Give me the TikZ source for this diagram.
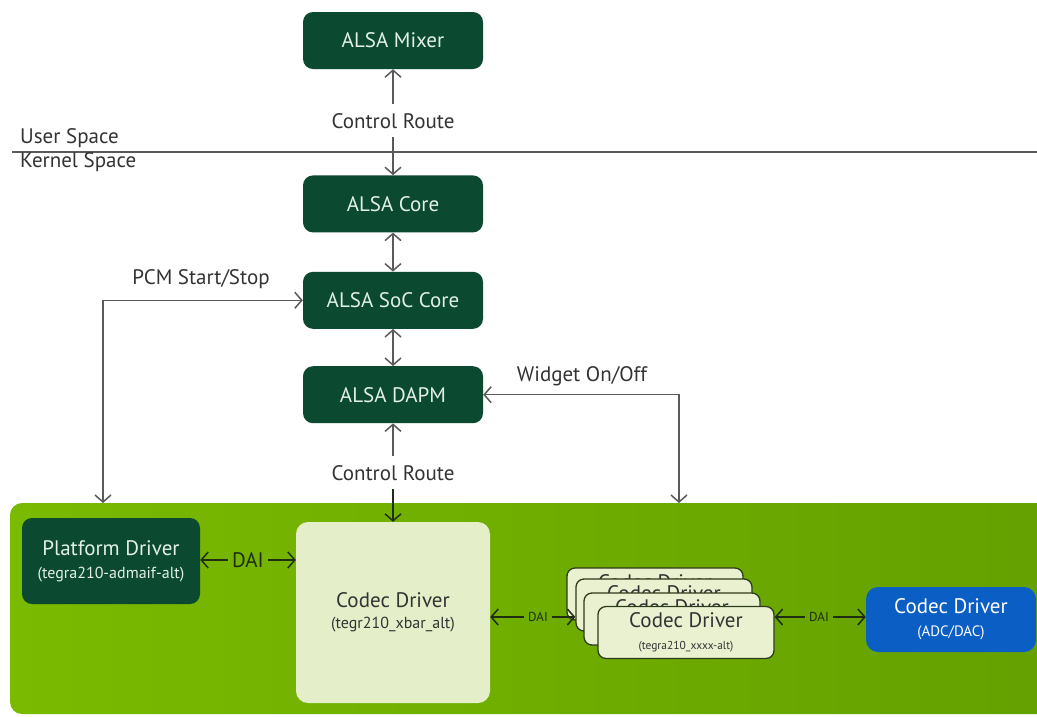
\documentclass[tikz,border=0pt]{standalone}
\usepackage{fontspec}
\setmainfont{PT Sans}
\usetikzlibrary{arrows.meta, positioning}

\definecolor{alsadark}{HTML}{0B4A30}
\definecolor{alsatext}{HTML}{E2F0E6}
\definecolor{nvgreen}{HTML}{7ABA00}
\definecolor{nvgreendark}{HTML}{64A000}
\definecolor{codecfill}{HTML}{E4EFC9}
\definecolor{stackfill}{HTML}{E9F1D0}
\definecolor{stackline}{HTML}{2E3A1C}
\definecolor{adcblue}{HTML}{0B5EC4}
\definecolor{linegrey}{HTML}{5A5A5A}
\definecolor{innerline}{HTML}{1F2E12}
\definecolor{lbltext}{HTML}{333333}

\newcommand{\subfont}{\fontsize{16}{19}\selectfont}
\newcommand{\tinyfont}{\fontsize{11.5}{13}\selectfont}
\newcommand{\daifont}{\fontsize{13}{15}\selectfont}

\begin{document}
\begin{tikzpicture}[
    x=1pt, y=-1pt,
    font=\fontsize{21}{25}\selectfont,
    alsabox/.style={rectangle, rounded corners=10pt, fill=alsadark, text=alsatext, minimum width=180pt, minimum height=57pt, align=center},
    lbl/.style={text=lbltext, inner sep=9pt},
    codecbox/.style={rectangle, rounded corners=12pt, fill=codecfill, text=lbltext, align=center},
    stackbox/.style={rectangle, rounded corners=8pt, draw=stackline, line width=1.3pt, fill=stackfill, text=lbltext, minimum width=176pt, minimum height=52pt, align=center},
    arrow/.style={-{Straight Barb[length=7pt, width=16pt]}, line width=1.5pt, draw=linegrey},
    darrow/.style={arrow, {Straight Barb[length=7pt, width=16pt]}-{Straight Barb[length=7pt, width=16pt]}},
    inarrow/.style={arrow, draw=innerline}
]
\useasboundingbox (0,0) rectangle (1037,716);

% green driver area
\path[left color=nvgreen, right color=nvgreendark, rounded corners=12pt] (10,503) rectangle (1060,714);

% user / kernel split
\draw[linegrey, line width=1.3pt] (12,152) -- (1037,152);
\node[text=lbltext, anchor=base west, inner sep=0pt] (user) at (20,143) {User Space};
\node[text=lbltext, anchor=base west, inner sep=0pt] (kernel) at (20,167) {Kernel Space};

% ALSA column
\node[alsabox] (mixer) at (393,40.5) {ALSA Mixer};
\node[alsabox, below=106pt of mixer] (core) {ALSA Core};
\node[alsabox, below=39pt of core] (soc) {ALSA SoC Core};
\node[alsabox, below=37pt of soc] (dapm) {ALSA DAPM};

\node[lbl, anchor=base] (route1) at (393,128) {Control Route};
\node[lbl, anchor=base] (route2) at (393,480) {Control Route};
\node[lbl, anchor=base] (pcm) at (201,284) {PCM Start/Stop};
\node[lbl, anchor=base] (widget) at (582,381) {Widget On/Off};

% drivers
\node[alsabox, minimum width=178pt, minimum height=86pt] (platform) at (111,561) {Platform Driver\\[-2pt]\subfont (tegra210-admaif-alt)};
\node[codecbox, minimum width=194pt, minimum height=181pt] (codec) at (393,612.5) {Codec Driver\\[-4pt]\subfont (tegr210\_xbar\_alt)};
\node[stackbox] (stack1) at (655,594) {Codec Driver\\[-3pt]\tinyfont (tegra210\_xxxx-alt)};
\node[stackbox] (stack2) at (664,605) {Codec Driver\\[-3pt]\tinyfont (tegra210\_xxxx-alt)};
\node[stackbox] (stack3) at (672,619) {Codec Driver\\[-3pt]\tinyfont (tegra210\_xxxx-alt)};
\node[stackbox] (stack4) at (686,632.5) {Codec Driver\\[-3pt]\tinyfont (tegra210\_xxxx-alt)};
\node[rectangle, rounded corners=12pt, fill=adcblue, text=white, minimum width=170pt, minimum height=65pt, align=center] (adc) at (951,619.5) {Codec Driver\\[-2pt]\fontsize{15}{17}\selectfont (ADC/DAC)};

\node[text=innerline, inner sep=4pt] (dai1) at (248,560) {DAI};
\node[text=innerline, inner sep=4pt, font=\daifont] (dai2) at (538,617) {DAI};
\node[text=innerline, inner sep=4pt, font=\daifont] (dai3) at (819,617) {DAI};
\coordinate (pcmend) at (103,503);
\coordinate (widgetend) at (679,503);

% connectors
\draw[arrow] (route1) -- (mixer);
\draw[arrow] (route1) -- (core);
\draw[darrow] (core) -- (soc);
\draw[darrow] (soc) -- (dapm);
\draw[arrow] (route2) -- (dapm);
\draw[inarrow] (route2) -- (codec);
\draw[darrow] (soc.west) -| (pcmend);
\draw[darrow] (dapm.east) -| (widgetend);
\draw[inarrow] (dai1) -- (dai1 -| platform.east);
\draw[inarrow] (dai1) -- (dai1 -| codec.west);
\draw[inarrow] (dai2) -- (dai2 -| codec.east);
\draw[inarrow] (dai2) -- (dai2 -| stack2.west);
\draw[inarrow] (dai3) -- (dai3 -| stack4.east);
\draw[inarrow] (dai3) -- (dai3 -| adc.west);
\end{tikzpicture}
\end{document}
